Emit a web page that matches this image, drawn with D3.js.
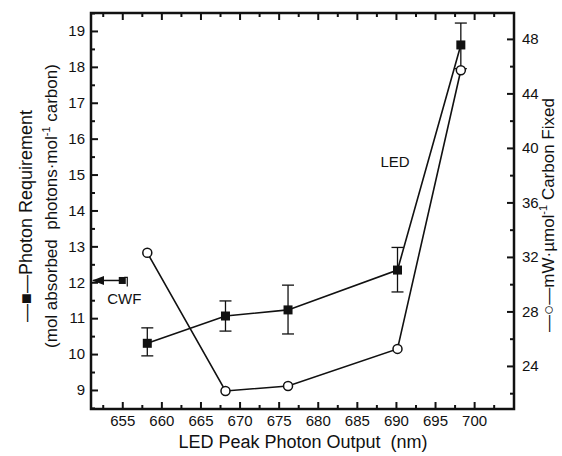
<!DOCTYPE html>
<html>
<head>
<script src="https://d3js.org/d3.v7.min.js"></script>
<style>
  body { margin: 0; background: #fff; }
  text { font-family: "Liberation Sans", Arial, sans-serif; fill: #111; white-space: pre; }
</style>
</head>
<body>
<script>
// LED peak wavelength (nm)
var wavelength = [658.2, 668.2, 676.2, 690.2, 698.3];
// photon requirement, left axis
var photonReq = [10.3, 11.06, 11.23, 12.34, 18.61];
var errLow = [9.95, 10.64, 10.56, 11.73, 17.95];
var errHigh = [10.73, 11.48, 11.92, 12.97, 19.22];
// mW per umol carbon fixed, right axis
var energy = [32.3, 22.16, 22.53, 25.25, 45.7];
// cool white fluorescent reference
var cwfX = 655, cwfY = 12.05;

var xTicks = [655, 660, 665, 670, 675, 680, 685, 690, 695, 700];
var xMinor = [652.5, 657.5, 662.5, 667.5, 672.5, 677.5, 682.5, 687.5, 692.5, 697.5, 702.5];
var yTicks = [9, 10, 11, 12, 13, 14, 15, 16, 17, 18, 19];
var yMinor = [8.5, 9.5, 10.5, 11.5, 12.5, 13.5, 14.5, 15.5, 16.5, 17.5, 18.5, 19.5];
var y2Ticks = [24, 28, 32, 36, 40, 44, 48];
var y2Minor = [22, 26, 30, 34, 38, 42, 46];

var w = 562, h = 456;
var L = 91, R = 514, T = 13, B = 409;

var x = d3.scaleLinear().domain([651, 705.1]).range([L, R]);
var y = d3.scaleLinear().domain([8.47, 19.5]).range([B, T]);
var y2 = d3.scaleLinear().domain([20.84, 49.9]).range([B, T]);

var svg = d3.select("body").append("svg").attr("width", w).attr("height", h);

function style(g) {
  g.select(".domain").remove();
  g.selectAll("line").attr("stroke", "#111").attr("stroke-width", 2);
  g.selectAll("text").attr("font-size", 15).style("font-family", "'Liberation Sans', Arial, sans-serif");
}

// minor ticks
svg.append("g").attr("transform", "translate(0," + B + ")")
  .call(d3.axisBottom(x).tickValues(xMinor).tickSize(-4).tickFormat("")).call(style);
svg.append("g").attr("transform", "translate(0," + T + ")")
  .call(d3.axisTop(x).tickValues(xMinor).tickSize(-4).tickFormat("")).call(style);
svg.append("g").attr("transform", "translate(" + L + ",0)")
  .call(d3.axisLeft(y).tickValues(yMinor).tickSize(-4).tickFormat("")).call(style);
svg.append("g").attr("transform", "translate(" + R + ",0)")
  .call(d3.axisRight(y2).tickValues(y2Minor).tickSize(-4).tickFormat("")).call(style);

// major ticks
svg.append("g").attr("transform", "translate(0," + B + ")")
  .call(d3.axisBottom(x).tickValues(xTicks).tickSize(-7).tickPadding(6).tickFormat(d3.format("d"))).call(style);
svg.append("g").attr("transform", "translate(0," + T + ")")
  .call(d3.axisTop(x).tickValues(xTicks).tickSize(-7).tickFormat("")).call(style);
svg.append("g").attr("transform", "translate(" + L + ",0)")
  .call(d3.axisLeft(y).tickValues(yTicks).tickSize(-7).tickPadding(6).tickFormat(d3.format("d"))).call(style);
svg.append("g").attr("transform", "translate(" + R + ",0)")
  .call(d3.axisRight(y2).tickValues(y2Ticks).tickSize(-7).tickPadding(8).tickFormat(d3.format("d"))).call(style);

// frame
svg.append("rect").attr("x", L).attr("y", T).attr("width", R - L).attr("height", B - T)
  .attr("fill", "none").attr("stroke", "#111").attr("stroke-width", 2.5);

var idx = d3.range(wavelength.length);
var line1 = d3.line().x(function(i){ return x(wavelength[i]); }).y(function(i){ return y(photonReq[i]); });
var line2 = d3.line().x(function(i){ return x(wavelength[i]); }).y(function(i){ return y2(energy[i]); });

svg.append("path").attr("d", line2(idx)).attr("fill", "none").attr("stroke", "#111").attr("stroke-width", 1.6);
svg.append("path").attr("d", line1(idx)).attr("fill", "none").attr("stroke", "#111").attr("stroke-width", 1.6);

// error bars
var eb = svg.append("g").attr("stroke", "#111").attr("stroke-width", 1.3);
idx.forEach(function(i){
  var cx = x(wavelength[i]);
  eb.append("line").attr("x1", cx).attr("x2", cx).attr("y1", y(errLow[i])).attr("y2", y(errHigh[i]));
  eb.append("line").attr("x1", cx - 6).attr("x2", cx + 6).attr("y1", y(errLow[i])).attr("y2", y(errLow[i]));
  eb.append("line").attr("x1", cx - 6).attr("x2", cx + 6).attr("y1", y(errHigh[i])).attr("y2", y(errHigh[i]));
});

svg.selectAll(".sq").data(idx).enter().append("rect")
  .attr("x", function(i){ return x(wavelength[i]) - 4.5; })
  .attr("y", function(i){ return y(photonReq[i]) - 4.5; })
  .attr("width", 9).attr("height", 9).attr("fill", "#111");

svg.selectAll(".ci").data(idx).enter().append("circle")
  .attr("cx", function(i){ return x(wavelength[i]); })
  .attr("cy", function(i){ return y2(energy[i]); })
  .attr("r", 4.5).attr("fill", "#fff").attr("stroke", "#111").attr("stroke-width", 1.5);

// CWF marker with arrow to axis
var cx0 = x(cwfX), cy0 = y(cwfY);
svg.append("line").attr("x1", L + 2).attr("x2", cx0).attr("y1", cy0).attr("y2", cy0)
  .attr("stroke", "#111").attr("stroke-width", 1.5);
svg.append("path").attr("d", "M" + (L + 13) + "," + (cy0 - 4.5) + "L" + (L + 13) + "," + (cy0 + 4.5) + "L" + (L + 1) + "," + cy0 + "Z")
  .attr("fill", "#111");
svg.append("rect").attr("x", cx0 - 3.5).attr("y", cy0 - 3.5).attr("width", 7).attr("height", 7).attr("fill", "#111");
svg.append("path").attr("d", "M" + (cx0 + 2) + "," + (cy0 - 3) + "L" + (cx0 + 5) + "," + (cy0 - 3) + "L" + (cx0 + 5) + "," + (cy0 + 6))
  .attr("fill", "none").attr("stroke", "#111").attr("stroke-width", 1.2);
svg.append("text").attr("x", cx0 + 2).attr("y", cy0 + 24).attr("text-anchor", "middle")
  .attr("font-size", 15).text("CWF");

svg.append("text").attr("x", 395).attr("y", 167).attr("text-anchor", "middle")
  .attr("font-size", 15).text("LED");

// axis titles
svg.append("text").attr("x", 303).attr("y", 448).attr("text-anchor", "middle")
  .attr("font-size", 18).text("LED Peak Photon Output  (nm)");

svg.append("text").attr("transform", "translate(32,216) rotate(-90)").attr("text-anchor", "middle")
  .attr("font-size", 18).text("—■—Photon Requirement");

var t2 = svg.append("text").attr("transform", "translate(57,206) rotate(-90)").attr("text-anchor", "middle")
  .attr("font-size", 17);
t2.append("tspan").text("(mol absorbed  photons·mol");
t2.append("tspan").attr("dy", -7).attr("font-size", 11).text("-1");
t2.append("tspan").attr("dy", 7).text(" carbon)");

var t3 = svg.append("text").attr("transform", "translate(554,215) rotate(-90)").attr("text-anchor", "middle")
  .attr("font-size", 17);
t3.append("tspan").text("—○—mW·µmol");
t3.append("tspan").attr("dy", -7).attr("font-size", 11).text("-1");
t3.append("tspan").attr("dy", 7).text(" Carbon Fixed");
</script>
</body>
</html>
